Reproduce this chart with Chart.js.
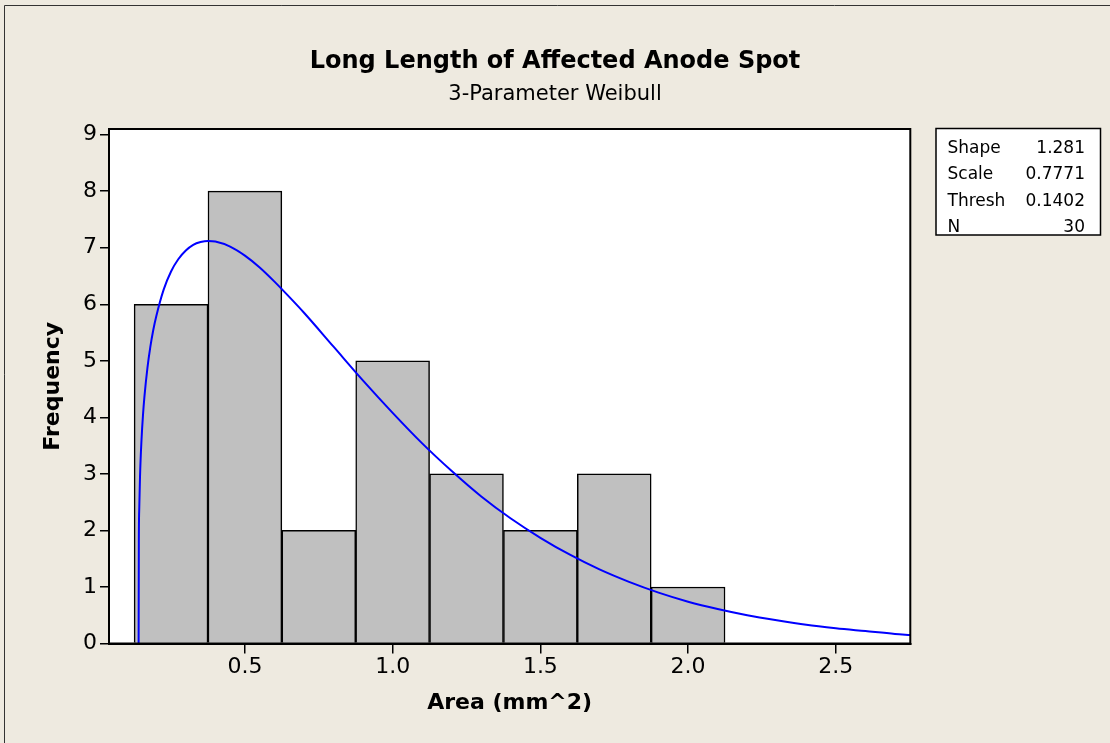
<!DOCTYPE html>
<html>
<head>
<meta charset="utf-8">
<title>Long Length of Affected Anode Spot</title>
<script src="https://cdn.jsdelivr.net/npm/chart.js@4/dist/chart.umd.min.js"></script>
<style>
  html, body { margin: 0; padding: 0; background: #EEEAE0; }
  #wrap { width: 1110px; height: 743px; position: relative; }
</style>
</head>
<body>
<div id="wrap"><canvas id="chart"></canvas></div>
<script>
// Histogram bins (centre of each 0.25-wide class) and their counts
const binCenters = [0.25, 0.5, 0.75, 1.0, 1.25, 1.5, 1.75, 2.0];
const binCounts  = [6, 8, 2, 5, 3, 2, 3, 1];

// Fitted 3-parameter Weibull curve, in frequency units
const curveX = [0.1402, 0.141, 0.1425, 0.145, 0.15, 0.155, 0.16, 0.17, 0.18, 0.19, 0.2,
                0.225, 0.25, 0.275, 0.3, 0.325, 0.35, 0.375, 0.4, 0.45,
                0.5, 0.55, 0.6, 0.65, 0.7, 0.8, 0.9, 1.0, 1.1, 1.2, 1.3, 1.4, 1.5, 1.6, 1.7,
                1.8, 1.9, 2.0, 2.1, 2.2, 2.3, 2.4, 2.5, 2.6, 2.7, 2.752];
const curveY = [0, 1.79, 2.41, 2.96, 3.60, 4.04, 4.37, 4.87, 5.25, 5.55, 5.79,
                6.26, 6.58, 6.80, 6.95, 7.05, 7.10, 7.12, 7.11, 7.02,
                6.86, 6.65, 6.40, 6.13, 5.85, 5.25, 4.65, 4.08, 3.54, 3.05, 2.60, 2.21, 1.87, 1.57, 1.31,
                1.09, 0.90, 0.74, 0.61, 0.50, 0.41, 0.33, 0.27, 0.22, 0.17, 0.15];

// Axis tick values
const xTicks = [0.5, 1.0, 1.5, 2.0, 2.5];
const yTicks = [0, 1, 2, 3, 4, 5, 6, 7, 8, 9];

// Fit summary shown in the side table
const statLabels = ['Shape', 'Scale', 'Thresh', 'N'];
const statValues = ['1.281', '0.7771', '0.1402', '30'];

const FONT = "'DejaVu Sans', Tahoma, Verdana, sans-serif";
const BG = '#EEEAE0';

// Page background, white plot area and the thin outer frame
const backdrop = {
  id: 'backdrop',
  beforeDraw(chart) {
    const { ctx, chartArea: a, width, height } = chart;
    ctx.save();
    ctx.fillStyle = BG;
    ctx.fillRect(0, 0, width, height);
    ctx.fillStyle = '#FFFFFF';
    ctx.fillRect(a.left, a.top, a.right - a.left, a.bottom - a.top);
    ctx.strokeStyle = '#333333';
    ctx.lineWidth = 1;
    ctx.beginPath();
    ctx.moveTo(4.5, height + 5);
    ctx.lineTo(4.5, 5.5);
    ctx.lineTo(width + 5, 5.5);
    ctx.stroke();
    ctx.restore();
  },
  afterDatasetsDraw(chart) {
    const { ctx, chartArea: a } = chart;
    ctx.save();
    ctx.strokeStyle = '#000000';
    ctx.lineWidth = 2;
    ctx.strokeRect(a.left, a.top, a.right - a.left, a.bottom - a.top);
    ctx.restore();
  }
};

// Parameter table to the right of the plot
const statTable = {
  id: 'statTable',
  afterDraw(chart) {
    const { ctx } = chart;
    const box = { x: 936, y: 128.5, w: 164.5, h: 106.5 };
    ctx.save();
    ctx.fillStyle = '#FFFFFF';
    ctx.fillRect(box.x, box.y, box.w, box.h);
    ctx.strokeStyle = '#000000';
    ctx.lineWidth = 1.5;
    ctx.strokeRect(box.x, box.y, box.w, box.h);
    ctx.fillStyle = '#000000';
    ctx.font = '17px ' + FONT;
    ctx.textBaseline = 'alphabetic';
    statLabels.forEach((label, i) => {
      const y = 152.5 + i * 26.5;
      ctx.textAlign = 'left';
      ctx.fillText(label, 947.5, y);
      ctx.textAlign = 'right';
      ctx.fillText(statValues[i], 1085, y);
    });
    ctx.restore();
  }
};

const tickFont = { family: FONT, size: 22 };
const titleFont = { family: FONT, size: 22, weight: 'bold' };

new Chart(document.getElementById('chart'), {
  type: 'bar',
  data: {
    datasets: [
      {
        type: 'line',
        label: 'Weibull fit',
        data: curveX.map((x, i) => ({ x, y: curveY[i] })),
        borderColor: '#0000FF',
        borderWidth: 2,
        pointRadius: 0,
        fill: false,
        cubicInterpolationMode: 'monotone',
        order: 0
      },
      {
        type: 'bar',
        label: 'Frequency',
        data: binCenters.map((x, i) => ({ x, y: binCounts[i] })),
        backgroundColor: '#C0C0C0',
        borderColor: '#000000',
        borderWidth: 1.5,
        barPercentage: 1,
        categoryPercentage: 1,
        order: 1
      }
    ]
  },
  options: {
    responsive: true,
    maintainAspectRatio: false,
    animation: false,
    devicePixelRatio: 1,
    layout: { padding: 0 },
    plugins: {
      legend: { display: false },
      tooltip: { enabled: false },
      title: {
        display: true,
        text: 'Long Length of Affected Anode Spot',
        color: '#000000',
        font: { family: FONT, size: 24, weight: 'bold' },
        padding: { top: 47, bottom: 0 }
      },
      subtitle: {
        display: true,
        text: '3-Parameter Weibull',
        color: '#000000',
        font: { family: FONT, size: 21 },
        padding: { top: 6, bottom: 22 }
      }
    },
    scales: {
      x: {
        type: 'linear',
        position: 'bottom',
        min: 0.04,
        max: 2.752,
        offset: false,
        grid: { drawOnChartArea: false, offset: false, tickLength: 10, color: '#000000', lineWidth: 1.5 },
        border: { display: true, color: '#000000', width: 2 },
        ticks: {
          color: '#000000',
          font: tickFont,
          padding: 1,
          maxRotation: 0,
          autoSkip: false,
          callback: v => Number(v).toFixed(1)
        },
        afterBuildTicks(scale) { scale.ticks = xTicks.map(v => ({ value: v })); },
        afterFit(scale) { scale.height = 99.5; },
        title: {
          display: true,
          text: 'Area (mm^2)',
          color: '#000000',
          font: titleFont,
          padding: { top: 0, bottom: 27 }
        }
      },
      y: {
        type: 'linear',
        position: 'left',
        min: 0,
        max: 9.1,
        grid: { drawOnChartArea: false, tickLength: 9, color: '#000000', lineWidth: 1.5 },
        border: { display: true, color: '#000000', width: 2 },
        ticks: {
          color: '#000000',
          font: tickFont,
          padding: 3,
          autoSkip: false,
          callback: v => String(v)
        },
        afterBuildTicks(scale) { scale.ticks = yTicks.map(v => ({ value: v })); },
        afterFit(scale) { scale.width = 109; },
        title: {
          display: true,
          text: 'Frequency',
          color: '#000000',
          font: titleFont,
          padding: { top: 40, bottom: 0 }
        }
      },
      side: {
        type: 'linear',
        position: 'right',
        display: true,
        grid: { display: false, drawTicks: false },
        border: { display: false },
        ticks: { display: false },
        afterFit(scale) { scale.width = 199.7; }
      }
    }
  },
  plugins: [backdrop, statTable]
});
</script>
</body>
</html>
